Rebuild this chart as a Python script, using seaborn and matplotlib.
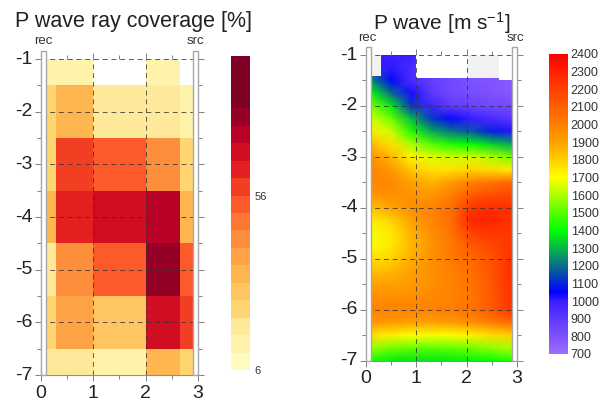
import numpy as np
import matplotlib
matplotlib.use("Agg")
import matplotlib.pyplot as plt
import seaborn as sns
from matplotlib.colors import BoundaryNorm, LinearSegmentedColormap, ListedColormap, Normalize
from matplotlib.patches import Rectangle

# -------------------------------
# 1. Values
# -------------------------------

# ray coverage [%], one row per 1 m depth block, one column per x block
coverage = np.array([
    [12, 12, np.nan, 12, np.nan],
    [22, 32, 17, 17, 12],
    [22, 57, 52, 42, 22],
    [32, 62, 67, 72, 32],
    [17, 42, 52, 77, 52],
    [22, 37, 27, 67, 57],
    [17, 17, 12, 32, 22],
])
row_repeat = [1, 2, 2, 2, 2, 2, 1]  # half metre rows
col_repeat = [4, 14, 20, 13, 5]     # 0.05 m columns, starts at x=0.1
coverage_levels = list(range(6, 97, 5))
coverage_ticks = [6, 56]
coverage_colors = ["#fffabd", "#fff2ab", "#fee99b", "#fed571", "#fec562", "#feb651",
                   "#fea446", "#fd8f3c", "#fd7634", "#fc5a2a", "#f23f24", "#e3201f",
                   "#d00d21", "#b90026", "#940026", "#7f0025", "#7f0025", "#7f0025"]

# P wave velocity [m/s] per x position, depth = -1, -1.25 ... -7
velocity_x_step = 0.4
v_x01 = [1000, 1000, 1250, 1400, 1550, 1650, 1730, 1850, 1950, 1990, 1980, 1930, 1830, 1730,
         1690, 1700, 1760, 1830, 1900, 1960, 1990, 1930, 1760, 1580, 1420]
v_x05 = [1000, 1010, 1060, 1200, 1380, 1530, 1640, 1760, 1850, 1930, 1970, 1950, 1890, 1790,
         1740, 1750, 1790, 1850, 1900, 1950, 1990, 1920, 1730, 1540, 1380]
v_x09 = [1000, 950, 950, 1030, 1130, 1310, 1440, 1600, 1720, 1820, 1900, 1940, 1950, 1900,
         1860, 1850, 1870, 1900, 1920, 1950, 1990, 1900, 1700, 1520, 1370]
v_x13 = [900, 880, 880, 900, 980, 1130, 1290, 1500, 1660, 1760, 1860, 1930, 1990, 1980,
         1950, 1940, 1950, 1950, 1950, 1970, 1990, 1900, 1690, 1510, 1370]
v_x17 = [820, 820, 830, 840, 890, 1040, 1210, 1430, 1640, 1760, 1920, 2000, 2060, 2060,
         2040, 2020, 2020, 2000, 1990, 1990, 2010, 1920, 1700, 1520, 1380]
v_x21 = [800, 800, 800, 820, 860, 1000, 1170, 1400, 1650, 1790, 2000, 2120, 2230, 2280,
         2200, 2120, 2070, 2050, 2040, 2030, 2040, 1960, 1730, 1540, 1390]
v_x25 = [790, 790, 790, 800, 840, 950, 1090, 1340, 1600, 1770, 2040, 2160, 2260, 2290,
         2230, 2180, 2150, 2140, 2130, 2120, 2120, 2010, 1770, 1570, 1400]
v_x29 = [760, 760, 770, 780, 830, 900, 1020, 1280, 1540, 1740, 2080, 2180, 2240, 2240,
         2220, 2230, 2250, 2260, 2260, 2250, 2240, 2070, 1800, 1600, 1440]
velocity_ticks = list(range(700, 2401, 100))
velocity_stops = [700, 1000, 1050, 1200, 1400, 1700, 1900, 2400]
velocity_colors = ["#a06cff", "#3a1eff", "#0000ff", "#0a6e8c", "#00ff00", "#ffff00", "#ffa000", "#ff0000"]

# areas with no data at the top of the velocity panel
blank_left = [0.1, 1.0, 2.0, 2.65]
blank_right = [0.3, 2.0, 2.65, 2.9]
blank_bottom = [-1.42, -1.45, -1.45, -1.5]
blank_color = ["#f2f2f2", "white", "#f2f2f2", "white"]

x_ticks = [0, 1, 2, 3]
y_ticks = [-1, -2, -3, -4, -5, -6, -7]
x_labels = ["0", "1", "2", "3"]
y_labels = ["-1", "-2", "-3", "-4", "-5", "-6", "-7"]

# -------------------------------
# 2. Figure
# -------------------------------

sns.set_style("white")
plt.rcParams["font.family"] = ["Liberation Sans", "DejaVu Sans"]
plt.rcParams["mathtext.default"] = "regular"

W, H = 603, 401
fig = plt.figure(figsize=(W / 100, H / 100), dpi=100)


def px_axes(x0, x1, y0, y1):
    return fig.add_axes([x0 / W, 1 - y1 / H, (x1 - x0) / W, (y1 - y0) / H])


ax1 = px_axes(40.5, 198, 59, 375)
cax1 = px_axes(231, 250, 56, 370)
ax2 = px_axes(365.7, 517, 55, 360.7)
cax2 = px_axes(549, 568, 54, 354)


def style_axes(ax, to_x, to_y):
    # index position of the heatmap <-> metres
    ax.set_xticks([to_x(v) for v in x_ticks], x_labels)
    ax.set_yticks([to_y(v) for v in y_ticks], y_labels, rotation=0)
    ax.set_xticks([to_x(v + 0.5) for v in x_ticks[:-1]], minor=True)
    ax.set_yticks([to_y(v + 0.5) for v in y_ticks[1:]], minor=True)
    ax.set_xlim(to_x(0), to_x(3))
    ax.set_ylim(to_y(-7), to_y(-1))
    ax.tick_params(which="both", direction="out", color="#808080", width=0.7,
                   left=True, bottom=True, top=True, right=True)
    ax.tick_params(which="major", length=4, labelsize=14, labelcolor="#222222", pad=2)
    ax.tick_params(which="minor", length=3)
    ax.tick_params(axis="x", labeltop=False, pad=3)
    ax.set_xlabel("")
    ax.set_ylabel("")
    ax.set_axisbelow(False)
    ax.grid(True, which="major", color="#333333", lw=0.7, ls=(0, (5, 4)), alpha=0.8)
    for side in ["left", "bottom"]:
        ax.spines[side].set_visible(True)
        ax.spines[side].set_color("#909090")
        ax.spines[side].set_linewidth(0.8)
    # receiver and source boreholes
    for x0 in [0, 2.9]:
        ax.add_patch(Rectangle((to_x(x0), to_y(-7)), to_x(x0 + 0.1) - to_x(x0), to_y(-0.85) - to_y(-7),
                               fc="white", ec="#a8a8a8", lw=1.0, clip_on=False, zorder=5))


# -------------------------------
# 3. Ray coverage panel
# -------------------------------

coverage_grid = np.repeat(np.repeat(coverage, row_repeat, axis=0), col_repeat, axis=1)
sns.heatmap(coverage_grid, ax=ax1, cbar_ax=cax1,
            cmap=ListedColormap(coverage_colors),
            norm=BoundaryNorm(coverage_levels, len(coverage_levels) - 1),
            cbar_kws={"ticks": coverage_ticks})
to_x1 = lambda v: (v - 0.1) / 0.05
to_y1 = lambda v: (-1 - v) / 0.5
style_axes(ax1, to_x1, to_y1)
ax1.set_title("P wave ray coverage [%]", fontsize=15.5, color="#222222", x=0.59, pad=23)
ax1.text(to_x1(0.05), to_y1(-0.77), "rec", ha="center", va="bottom", fontsize=9.5, color="#333333")
ax1.text(to_x1(2.95), to_y1(-0.77), "src", ha="center", va="bottom", fontsize=9.5, color="#333333")

# -------------------------------
# 4. Velocity panel
# -------------------------------

velocity = np.column_stack([v_x01, v_x05, v_x09, v_x13, v_x17, v_x21, v_x25, v_x29])
velocity_cmap = LinearSegmentedColormap.from_list(
    "velocity",
    [((s - velocity_stops[0]) / (velocity_stops[-1] - velocity_stops[0]), c)
     for s, c in zip(velocity_stops, velocity_colors)],
    N=512,
)
sns.heatmap(velocity, ax=ax2, cbar_ax=cax2, cmap=velocity_cmap,
            norm=Normalize(velocity_stops[0], velocity_stops[-1]),
            shading="gouraud", cbar_kws={"ticks": velocity_ticks})
to_x2 = lambda v: (v - 0.1) / velocity_x_step
to_y2 = lambda v: (-1 - v) / 0.25
for l, r, b, c in zip(blank_left, blank_right, blank_bottom, blank_color):
    ax2.fill_between([to_x2(l), to_x2(r)], to_y2(-1), to_y2(b), color=c, lw=0, zorder=2)
style_axes(ax2, to_x2, to_y2)
ax2.set_title("P wave [m s$^{-1}$]", fontsize=15, color="#222222", x=0.5, pad=18)
ax2.text(to_x2(0.03), to_y2(-0.78), "rec", ha="center", va="bottom", fontsize=9.5, color="#333333")
ax2.text(to_x2(2.97), to_y2(-0.78), "src", ha="center", va="bottom", fontsize=9.5, color="#333333")

for cax in [cax1, cax2]:
    cax.minorticks_off()
    cax.tick_params(length=0, labelsize=8, pad=3, labelcolor="#333333")
    for spine in cax.spines.values():
        spine.set_visible(False)
cax2.tick_params(labelsize=9, pad=2)

fig.savefig("out.png", dpi=100)
plt.close()
